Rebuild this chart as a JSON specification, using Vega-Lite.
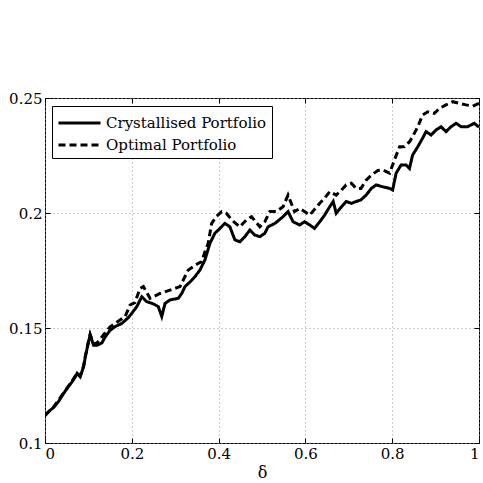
{
  "$schema": "https://vega.github.io/schema/vega-lite/v6.json",
  "autosize": "none",
  "width": 434,
  "height": 345,
  "padding": {"left": 45, "top": 98, "right": 4, "bottom": 40},
  "background": "white",
  "config": {
    "view": {"stroke": "black", "strokeWidth": 1},
    "font": "DejaVu Serif",
    "axis": {
      "labelFont": "DejaVu Serif", "labelFontSize": 15, "labelColor": "black",
      "titleFont": "DejaVu Serif", "titleFontSize": 16, "titleFontWeight": "normal", "titleColor": "black",
      "domain": false, "tickColor": "black", "tickSize": -5, "labelPadding": 8,
      "gridColor": "#999999", "gridDash": [1, 3], "gridWidth": 1
    }
  },
  "data": {"values": [
    {"d": 0.0, "v": 0.112, "s": "Crystallised Portfolio"},
    {"d": 0.008, "v": 0.1136, "s": "Crystallised Portfolio"},
    {"d": 0.02, "v": 0.1155, "s": "Crystallised Portfolio"},
    {"d": 0.031, "v": 0.118, "s": "Crystallised Portfolio"},
    {"d": 0.043, "v": 0.1216, "s": "Crystallised Portfolio"},
    {"d": 0.054, "v": 0.1245, "s": "Crystallised Portfolio"},
    {"d": 0.062, "v": 0.1265, "s": "Crystallised Portfolio"},
    {"d": 0.07, "v": 0.1288, "s": "Crystallised Portfolio"},
    {"d": 0.074, "v": 0.1303, "s": "Crystallised Portfolio"},
    {"d": 0.081, "v": 0.1288, "s": "Crystallised Portfolio"},
    {"d": 0.089, "v": 0.1332, "s": "Crystallised Portfolio"},
    {"d": 0.093, "v": 0.1375, "s": "Crystallised Portfolio"},
    {"d": 0.1003, "v": 0.144, "s": "Crystallised Portfolio"},
    {"d": 0.104, "v": 0.147, "s": "Crystallised Portfolio"},
    {"d": 0.112, "v": 0.1425, "s": "Crystallised Portfolio"},
    {"d": 0.12, "v": 0.1425, "s": "Crystallised Portfolio"},
    {"d": 0.131, "v": 0.1435, "s": "Crystallised Portfolio"},
    {"d": 0.139, "v": 0.1462, "s": "Crystallised Portfolio"},
    {"d": 0.15, "v": 0.149, "s": "Crystallised Portfolio"},
    {"d": 0.1616, "v": 0.1506, "s": "Crystallised Portfolio"},
    {"d": 0.177, "v": 0.152, "s": "Crystallised Portfolio"},
    {"d": 0.192, "v": 0.1545, "s": "Crystallised Portfolio"},
    {"d": 0.2, "v": 0.1564, "s": "Crystallised Portfolio"},
    {"d": 0.2115, "v": 0.1593, "s": "Crystallised Portfolio"},
    {"d": 0.223, "v": 0.1636, "s": "Crystallised Portfolio"},
    {"d": 0.234, "v": 0.1615, "s": "Crystallised Portfolio"},
    {"d": 0.2497, "v": 0.1605, "s": "Crystallised Portfolio"},
    {"d": 0.261, "v": 0.1593, "s": "Crystallised Portfolio"},
    {"d": 0.269, "v": 0.155, "s": "Crystallised Portfolio"},
    {"d": 0.2766, "v": 0.1607, "s": "Crystallised Portfolio"},
    {"d": 0.288, "v": 0.1622, "s": "Crystallised Portfolio"},
    {"d": 0.307, "v": 0.1629, "s": "Crystallised Portfolio"},
    {"d": 0.315, "v": 0.165, "s": "Crystallised Portfolio"},
    {"d": 0.3225, "v": 0.168, "s": "Crystallised Portfolio"},
    {"d": 0.334, "v": 0.17, "s": "Crystallised Portfolio"},
    {"d": 0.3455, "v": 0.1723, "s": "Crystallised Portfolio"},
    {"d": 0.357, "v": 0.1752, "s": "Crystallised Portfolio"},
    {"d": 0.3685, "v": 0.1796, "s": "Crystallised Portfolio"},
    {"d": 0.38, "v": 0.1868, "s": "Crystallised Portfolio"},
    {"d": 0.3915, "v": 0.1912, "s": "Crystallised Portfolio"},
    {"d": 0.403, "v": 0.1933, "s": "Crystallised Portfolio"},
    {"d": 0.4145, "v": 0.1955, "s": "Crystallised Portfolio"},
    {"d": 0.426, "v": 0.194, "s": "Crystallised Portfolio"},
    {"d": 0.4375, "v": 0.1883, "s": "Crystallised Portfolio"},
    {"d": 0.449, "v": 0.1875, "s": "Crystallised Portfolio"},
    {"d": 0.4605, "v": 0.1897, "s": "Crystallised Portfolio"},
    {"d": 0.472, "v": 0.1926, "s": "Crystallised Portfolio"},
    {"d": 0.4835, "v": 0.1904, "s": "Crystallised Portfolio"},
    {"d": 0.495, "v": 0.1897, "s": "Crystallised Portfolio"},
    {"d": 0.5065, "v": 0.1912, "s": "Crystallised Portfolio"},
    {"d": 0.514, "v": 0.194, "s": "Crystallised Portfolio"},
    {"d": 0.53, "v": 0.1955, "s": "Crystallised Portfolio"},
    {"d": 0.5485, "v": 0.1984, "s": "Crystallised Portfolio"},
    {"d": 0.56, "v": 0.2006, "s": "Crystallised Portfolio"},
    {"d": 0.5715, "v": 0.1962, "s": "Crystallised Portfolio"},
    {"d": 0.587, "v": 0.1948, "s": "Crystallised Portfolio"},
    {"d": 0.598, "v": 0.1962, "s": "Crystallised Portfolio"},
    {"d": 0.61, "v": 0.1948, "s": "Crystallised Portfolio"},
    {"d": 0.621, "v": 0.1933, "s": "Crystallised Portfolio"},
    {"d": 0.633, "v": 0.1962, "s": "Crystallised Portfolio"},
    {"d": 0.644, "v": 0.199, "s": "Crystallised Portfolio"},
    {"d": 0.656, "v": 0.2027, "s": "Crystallised Portfolio"},
    {"d": 0.664, "v": 0.205, "s": "Crystallised Portfolio"},
    {"d": 0.671, "v": 0.1999, "s": "Crystallised Portfolio"},
    {"d": 0.683, "v": 0.2027, "s": "Crystallised Portfolio"},
    {"d": 0.694, "v": 0.205, "s": "Crystallised Portfolio"},
    {"d": 0.706, "v": 0.2042, "s": "Crystallised Portfolio"},
    {"d": 0.717, "v": 0.205, "s": "Crystallised Portfolio"},
    {"d": 0.728, "v": 0.2057, "s": "Crystallised Portfolio"},
    {"d": 0.74, "v": 0.2078, "s": "Crystallised Portfolio"},
    {"d": 0.752, "v": 0.2107, "s": "Crystallised Portfolio"},
    {"d": 0.763, "v": 0.2122, "s": "Crystallised Portfolio"},
    {"d": 0.778, "v": 0.2114, "s": "Crystallised Portfolio"},
    {"d": 0.794, "v": 0.2107, "s": "Crystallised Portfolio"},
    {"d": 0.801, "v": 0.21, "s": "Crystallised Portfolio"},
    {"d": 0.809, "v": 0.2173, "s": "Crystallised Portfolio"},
    {"d": 0.8205, "v": 0.2209, "s": "Crystallised Portfolio"},
    {"d": 0.832, "v": 0.2209, "s": "Crystallised Portfolio"},
    {"d": 0.8398, "v": 0.2194, "s": "Crystallised Portfolio"},
    {"d": 0.847, "v": 0.2252, "s": "Crystallised Portfolio"},
    {"d": 0.859, "v": 0.2288, "s": "Crystallised Portfolio"},
    {"d": 0.87, "v": 0.2325, "s": "Crystallised Portfolio"},
    {"d": 0.878, "v": 0.2354, "s": "Crystallised Portfolio"},
    {"d": 0.8897, "v": 0.2339, "s": "Crystallised Portfolio"},
    {"d": 0.901, "v": 0.2361, "s": "Crystallised Portfolio"},
    {"d": 0.9126, "v": 0.2375, "s": "Crystallised Portfolio"},
    {"d": 0.924, "v": 0.2354, "s": "Crystallised Portfolio"},
    {"d": 0.9356, "v": 0.2375, "s": "Crystallised Portfolio"},
    {"d": 0.947, "v": 0.239, "s": "Crystallised Portfolio"},
    {"d": 0.959, "v": 0.2375, "s": "Crystallised Portfolio"},
    {"d": 0.9738, "v": 0.2375, "s": "Crystallised Portfolio"},
    {"d": 0.989, "v": 0.239, "s": "Crystallised Portfolio"},
    {"d": 1.0, "v": 0.2373, "s": "Crystallised Portfolio"},
    {"d": 0.0, "v": 0.112, "s": "Optimal Portfolio"},
    {"d": 0.02, "v": 0.1157, "s": "Optimal Portfolio"},
    {"d": 0.043, "v": 0.1218, "s": "Optimal Portfolio"},
    {"d": 0.062, "v": 0.1268, "s": "Optimal Portfolio"},
    {"d": 0.074, "v": 0.1305, "s": "Optimal Portfolio"},
    {"d": 0.081, "v": 0.129, "s": "Optimal Portfolio"},
    {"d": 0.089, "v": 0.1335, "s": "Optimal Portfolio"},
    {"d": 0.093, "v": 0.1378, "s": "Optimal Portfolio"},
    {"d": 0.1003, "v": 0.1443, "s": "Optimal Portfolio"},
    {"d": 0.104, "v": 0.1472, "s": "Optimal Portfolio"},
    {"d": 0.112, "v": 0.1432, "s": "Optimal Portfolio"},
    {"d": 0.12, "v": 0.1435, "s": "Optimal Portfolio"},
    {"d": 0.1347, "v": 0.147, "s": "Optimal Portfolio"},
    {"d": 0.15, "v": 0.1505, "s": "Optimal Portfolio"},
    {"d": 0.173, "v": 0.1535, "s": "Optimal Portfolio"},
    {"d": 0.1846, "v": 0.155, "s": "Optimal Portfolio"},
    {"d": 0.196, "v": 0.16, "s": "Optimal Portfolio"},
    {"d": 0.207, "v": 0.161, "s": "Optimal Portfolio"},
    {"d": 0.219, "v": 0.1672, "s": "Optimal Portfolio"},
    {"d": 0.2267, "v": 0.168, "s": "Optimal Portfolio"},
    {"d": 0.242, "v": 0.1629, "s": "Optimal Portfolio"},
    {"d": 0.265, "v": 0.165, "s": "Optimal Portfolio"},
    {"d": 0.288, "v": 0.1665, "s": "Optimal Portfolio"},
    {"d": 0.311, "v": 0.168, "s": "Optimal Portfolio"},
    {"d": 0.33, "v": 0.1752, "s": "Optimal Portfolio"},
    {"d": 0.353, "v": 0.1781, "s": "Optimal Portfolio"},
    {"d": 0.361, "v": 0.1788, "s": "Optimal Portfolio"},
    {"d": 0.3685, "v": 0.1832, "s": "Optimal Portfolio"},
    {"d": 0.376, "v": 0.1868, "s": "Optimal Portfolio"},
    {"d": 0.384, "v": 0.1955, "s": "Optimal Portfolio"},
    {"d": 0.395, "v": 0.1985, "s": "Optimal Portfolio"},
    {"d": 0.407, "v": 0.2006, "s": "Optimal Portfolio"},
    {"d": 0.418, "v": 0.1999, "s": "Optimal Portfolio"},
    {"d": 0.43, "v": 0.197, "s": "Optimal Portfolio"},
    {"d": 0.449, "v": 0.194, "s": "Optimal Portfolio"},
    {"d": 0.464, "v": 0.197, "s": "Optimal Portfolio"},
    {"d": 0.476, "v": 0.1984, "s": "Optimal Portfolio"},
    {"d": 0.495, "v": 0.194, "s": "Optimal Portfolio"},
    {"d": 0.5065, "v": 0.1962, "s": "Optimal Portfolio"},
    {"d": 0.518, "v": 0.2006, "s": "Optimal Portfolio"},
    {"d": 0.533, "v": 0.2006, "s": "Optimal Portfolio"},
    {"d": 0.5485, "v": 0.2027, "s": "Optimal Portfolio"},
    {"d": 0.56, "v": 0.2078, "s": "Optimal Portfolio"},
    {"d": 0.575, "v": 0.2006, "s": "Optimal Portfolio"},
    {"d": 0.587, "v": 0.202, "s": "Optimal Portfolio"},
    {"d": 0.61, "v": 0.1991, "s": "Optimal Portfolio"},
    {"d": 0.633, "v": 0.2042, "s": "Optimal Portfolio"},
    {"d": 0.644, "v": 0.2064, "s": "Optimal Portfolio"},
    {"d": 0.656, "v": 0.2093, "s": "Optimal Portfolio"},
    {"d": 0.671, "v": 0.2078, "s": "Optimal Portfolio"},
    {"d": 0.683, "v": 0.21, "s": "Optimal Portfolio"},
    {"d": 0.694, "v": 0.2122, "s": "Optimal Portfolio"},
    {"d": 0.706, "v": 0.2129, "s": "Optimal Portfolio"},
    {"d": 0.717, "v": 0.2107, "s": "Optimal Portfolio"},
    {"d": 0.728, "v": 0.2107, "s": "Optimal Portfolio"},
    {"d": 0.74, "v": 0.2143, "s": "Optimal Portfolio"},
    {"d": 0.752, "v": 0.2165, "s": "Optimal Portfolio"},
    {"d": 0.767, "v": 0.2185, "s": "Optimal Portfolio"},
    {"d": 0.778, "v": 0.2187, "s": "Optimal Portfolio"},
    {"d": 0.794, "v": 0.2173, "s": "Optimal Portfolio"},
    {"d": 0.805, "v": 0.223, "s": "Optimal Portfolio"},
    {"d": 0.817, "v": 0.2288, "s": "Optimal Portfolio"},
    {"d": 0.828, "v": 0.2288, "s": "Optimal Portfolio"},
    {"d": 0.84, "v": 0.231, "s": "Optimal Portfolio"},
    {"d": 0.847, "v": 0.2332, "s": "Optimal Portfolio"},
    {"d": 0.859, "v": 0.2375, "s": "Optimal Portfolio"},
    {"d": 0.87, "v": 0.2426, "s": "Optimal Portfolio"},
    {"d": 0.882, "v": 0.244, "s": "Optimal Portfolio"},
    {"d": 0.897, "v": 0.2433, "s": "Optimal Portfolio"},
    {"d": 0.909, "v": 0.2455, "s": "Optimal Portfolio"},
    {"d": 0.924, "v": 0.247, "s": "Optimal Portfolio"},
    {"d": 0.9395, "v": 0.2484, "s": "Optimal Portfolio"},
    {"d": 0.9545, "v": 0.2477, "s": "Optimal Portfolio"},
    {"d": 0.97, "v": 0.247, "s": "Optimal Portfolio"},
    {"d": 0.9855, "v": 0.2465, "s": "Optimal Portfolio"},
    {"d": 1.0, "v": 0.2477, "s": "Optimal Portfolio"}
  ]},
  "layer": [
    {
      "transform": [{"filter": "datum.s === 'Crystallised Portfolio'"}],
      "mark": {"type": "line", "color": "black", "strokeWidth": 3, "clip": true},
      "encoding": {
        "x": {"field": "d", "type": "quantitative", "scale": {"domain": [0, 1], "nice": false},
          "axis": {"orient": "bottom", "values": [0, 0.2, 0.4, 0.6, 0.8, 1], "format": "~g", "title": "δ", "titlePadding": 3, "grid": true}},
        "y": {"field": "v", "type": "quantitative", "scale": {"domain": [0.1, 0.25], "nice": false, "zero": false},
          "axis": {"orient": "left", "values": [0.1, 0.15, 0.2, 0.25], "format": "~g", "title": null, "grid": true}},
        "strokeDash": {"field": "s", "type": "nominal",
          "scale": {"domain": ["Crystallised Portfolio", "Optimal Portfolio"], "range": [[1, 0], [7, 4]]},
          "legend": {"title": null, "orient": "none", "legendX": 7, "legendY": 8,
            "strokeColor": "black", "fillColor": "white", "padding": 5,
            "symbolType": "M-1,0H3", "symbolSize": 441, "symbolStrokeWidth": 3, "symbolStrokeColor": "black",
            "labelFont": "DejaVu Serif", "labelFontSize": 15, "labelLimit": 400, "labelColor": "black", "labelOffset": 25, "rowPadding": 2}}
      }
    },
    {
      "transform": [{"filter": "datum.s === 'Optimal Portfolio'"}],
      "mark": {"type": "line", "color": "black", "strokeWidth": 3, "clip": true},
      "encoding": {
        "x": {"field": "d", "type": "quantitative",
          "axis": {"orient": "top", "values": [0, 0.2, 0.4, 0.6, 0.8, 1], "labels": false, "title": null, "grid": false}},
        "y": {"field": "v", "type": "quantitative",
          "axis": {"orient": "right", "values": [0.1, 0.15, 0.2, 0.25], "labels": false, "title": null, "grid": false}},
        "strokeDash": {"field": "s", "type": "nominal"}
      }
    }
  ],
  "resolve": {"axis": {"x": "independent", "y": "independent"}}
}
